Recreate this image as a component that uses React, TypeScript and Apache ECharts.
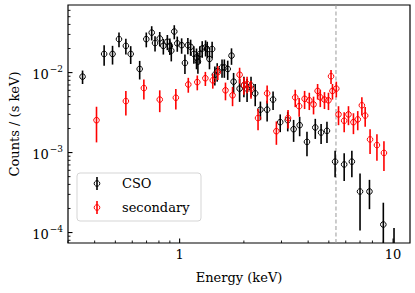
import React, { useEffect, useRef } from "react";
import * as echarts from "echarts";

// ---- data ----
const csoEnergy = [0.351, 0.443, 0.485, 0.52, 0.56, 0.59, 0.65, 0.698, 0.74, 0.767, 0.807, 0.839, 0.876, 0.9, 0.914, 0.944, 0.975, 1.022, 1.059, 1.093, 1.126, 1.166, 1.2, 1.218, 1.244, 1.276, 1.323, 1.347, 1.38, 1.42, 1.462, 1.5, 1.58, 1.62, 1.68, 1.75, 1.79, 1.91, 2.0, 2.07, 2.16, 2.26, 2.39, 2.57, 2.74, 2.96, 3.21, 3.42, 3.65, 3.95, 4.32, 4.6, 4.9, 5.35, 5.9, 6.41, 7.0, 7.75, 9.0, 10.1];
const csoCounts = [0.0089, 0.0171, 0.0171, 0.0262, 0.0216, 0.0171, 0.0111, 0.0262, 0.0316, 0.0234, 0.0267, 0.0216, 0.0243, 0.0216, 0.0188, 0.0326, 0.0232, 0.022, 0.0132, 0.022, 0.021, 0.0171, 0.0155, 0.0137, 0.0171, 0.02, 0.0206, 0.0197, 0.0148, 0.0197, 0.0094, 0.0104, 0.0116, 0.0116, 0.0111, 0.0163, 0.0077, 0.0063, 0.0069, 0.0063, 0.0069, 0.0055, 0.00344, 0.00344, 0.0046, 0.0024, 0.00254, 0.00196, 0.0022, 0.00136, 0.00206, 0.00178, 0.00187, 0.00077, 0.00071, 0.00077, 0.000326, 0.000326, 0.000126, 0.00006];
const csoErr = [0.0017, 0.0049, 0.0045, 0.0055, 0.0048, 0.0043, 0.0029, 0.0055, 0.0064, 0.005, 0.0055, 0.0048, 0.0052, 0.005, 0.005, 0.0065, 0.005, 0.0048, 0.0036, 0.005, 0.0048, 0.0042, 0.0045, 0.004, 0.0042, 0.0047, 0.0047, 0.0046, 0.0038, 0.0046, 0.0025, 0.0027, 0.003, 0.003, 0.003, 0.0038, 0.0022, 0.002, 0.002, 0.002, 0.002, 0.0017, 0.0009, 0.001, 0.0012, 0.0006, 0.0007, 0.0006, 0.0006, 0.00046, 0.00058, 0.0005, 0.00055, 0.00028, 0.00027, 0.00028, 0.00022, 0.00013, 0.00011, 0.000054];

const secEnergy = [0.408, 0.56, 0.68, 0.807, 0.96, 1.098, 1.21, 1.32, 1.43, 1.51, 1.64, 1.77, 1.91, 2.0, 2.07, 2.16, 2.33, 2.57, 2.84, 3.22, 3.48, 3.63, 3.85, 4.05, 4.24, 4.43, 4.56, 4.77, 4.98, 5.12, 5.2, 5.42, 5.55, 5.9, 6.18, 6.52, 6.83, 7.14, 7.4, 7.8, 8.4, 9.06];
const secCounts = [0.00254, 0.0044, 0.0064, 0.0046, 0.00485, 0.0071, 0.0076, 0.0085, 0.008, 0.0101, 0.006, 0.0052, 0.0094, 0.007, 0.0072, 0.0063, 0.0027, 0.0055, 0.00185, 0.0027, 0.0049, 0.0038, 0.0047, 0.0045, 0.004, 0.0059, 0.0049, 0.0046, 0.0045, 0.009, 0.0059, 0.0063, 0.003, 0.0025, 0.003, 0.0024, 0.0026, 0.0039, 0.0029, 0.00146, 0.00124, 0.00099];
const secErr = [0.0012, 0.0015, 0.0018, 0.0014, 0.0014, 0.0015, 0.0016, 0.0017, 0.0017, 0.002, 0.0015, 0.0014, 0.0021, 0.0017, 0.0017, 0.0016, 0.0008, 0.0014, 0.0006, 0.0007, 0.0012, 0.001, 0.0012, 0.0011, 0.001, 0.0013, 0.0012, 0.0011, 0.0011, 0.0018, 0.0013, 0.0014, 0.0008, 0.0007, 0.0008, 0.0007, 0.0007, 0.001, 0.0008, 0.0005, 0.00045, 0.0004];

const seriesNames = ["CSO", "secondary"];
const lineEnergy = 5.4;

const xMin = 0.3;
const xMax = 12;
const yMin = 7.4e-5;
const yMax = 0.07;

const xMajorTicks = [1, 10];
const xTickLabels = ["1", "10"];
const xMinorTicks = [0.3, 0.4, 0.5, 0.6, 0.7, 0.8, 0.9, 2, 3, 4, 5, 6, 7, 8, 9];
const yMajorTicks = [1e-4, 1e-3, 1e-2];
const yTickExps = ["−4", "−3", "−2"];
const yMinorTicks = [8e-5, 9e-5, 2e-4, 3e-4, 4e-4, 5e-4, 6e-4, 7e-4, 8e-4, 9e-4, 2e-3, 3e-3, 4e-3, 5e-3, 6e-3, 7e-3, 8e-3, 9e-3, 2e-2, 3e-2, 4e-2, 5e-2, 6e-2];

const FONT = "DejaVu Serif";

function errSeries(name: string, E: number[], C: number[], err: number[], color: string, z: number) {
  return {
    type: "custom",
    name,
    clip: true,
    z,
    data: E.map((e, i) => [e, C[i], Math.max(C[i] - err[i], 1e-9), C[i] + err[i]]),
    encode: { x: 0, y: [1, 2, 3] },
    renderItem: (params: any, api: any) => {
      const x = api.value(0);
      const p = api.coord([x, api.value(1)]);
      const lo = api.coord([x, api.value(2)]);
      const hi = api.coord([x, api.value(3)]);
      return {
        type: "group",
        children: [
          { type: "line", shape: { x1: p[0], y1: lo[1], x2: p[0], y2: hi[1] }, style: { stroke: color, lineWidth: 1.6 } },
          { type: "circle", shape: { cx: p[0], cy: p[1], r: 2.8 }, style: { stroke: color, fill: "none", lineWidth: 1 } },
        ],
      };
    },
  };
}

export default function App() {
  const ref = useRef<HTMLDivElement>(null);
  useEffect(() => {
    if (!ref.current) return;
    const chart = echarts.init(ref.current, null, { renderer: "svg" });

    const tickData: any[] = [];
    xMajorTicks.forEach((v, i) => tickData.push([v, yMin, 0, 1, xTickLabels[i]]));
    xMinorTicks.forEach((v) => tickData.push([v, yMin, 0, 0, ""]));
    yMajorTicks.forEach((v, i) => tickData.push([xMin, v, 1, 1, yTickExps[i]]));
    yMinorTicks.forEach((v) => tickData.push([xMin, v, 1, 0, ""]));

    const option: any = {
      animation: false,
      grid: { left: 67, right: 5, top: 5, bottom: 50, show: true, borderColor: "#000", borderWidth: 1.2, backgroundColor: "#fff" },
      xAxis: {
        type: "log",
        logBase: 10,
        min: xMin,
        max: xMax,
        name: "Energy (keV)",
        nameLocation: "middle",
        nameGap: 28,
        nameTextStyle: { fontFamily: FONT, fontSize: 13, color: "#000" },
        axisLine: { show: false },
        axisTick: { show: false },
        axisLabel: { show: false },
        splitLine: { show: false },
      },
      yAxis: {
        type: "log",
        logBase: 10,
        min: yMin,
        max: yMax,
        name: "Counts / (s keV)",
        nameLocation: "middle",
        nameGap: 47,
        nameTextStyle: { fontFamily: FONT, fontSize: 13, color: "#000" },
        axisLine: { show: false },
        axisTick: { show: false },
        axisLabel: { show: false },
        splitLine: { show: false },
      },
      series: [
        errSeries(seriesNames[0], csoEnergy, csoCounts, csoErr, "#000000", 3),
        errSeries(seriesNames[1], secEnergy, secCounts, secErr, "#ff0000", 4),
        {
          type: "custom",
          clip: true,
          z: 2,
          data: [[lineEnergy, yMin]],
          renderItem: (params: any, api: any) => {
            const cs = params.coordSys;
            const p = api.coord([api.value(0), api.value(1)]);
            return {
              type: "line",
              shape: { x1: p[0], y1: cs.y, x2: p[0], y2: cs.y + cs.height },
              style: { stroke: "#9a9a9a", lineWidth: 1, lineDash: [4, 2.5] },
            };
          },
        },
        {
          type: "custom",
          clip: false,
          z: 5,
          silent: true,
          data: tickData,
          renderItem: (params: any, api: any) => {
            const p = api.coord([api.value(0), api.value(1)]);
            const isY = api.value(2) === 1;
            const major = api.value(3) === 1;
            const label = tickData[params.dataIndex][4];
            const len = major ? 4.5 : 2.5;
            const children: any[] = [];
            if (!isY) {
              children.push({ type: "line", shape: { x1: p[0], y1: p[1], x2: p[0], y2: p[1] - len }, style: { stroke: "#000", lineWidth: major ? 1.1 : 0.9 } });
              if (major) {
                children.push({ type: "text", x: p[0], y: p[1] + 11, style: { text: label, fontFamily: FONT, fontSize: 13, fill: "#000", align: "center", verticalAlign: "middle" } });
              }
            } else {
              children.push({ type: "line", shape: { x1: p[0], y1: p[1], x2: p[0] + len, y2: p[1] }, style: { stroke: "#000", lineWidth: major ? 1.1 : 0.9 } });
              if (major) {
                children.push({
                  type: "text",
                  x: p[0] - 5,
                  y: p[1],
                  style: {
                    text: "{b|10}{s|" + label + "}",
                    align: "right",
                    verticalAlign: "middle",
                    rich: {
                      b: { fontFamily: FONT, fontSize: 13, fill: "#000", color: "#000", verticalAlign: "bottom" },
                      s: { fontFamily: FONT, fontSize: 9, fill: "#000", color: "#000", verticalAlign: "top", padding: [0, 0, 8, 1] },
                    },
                  },
                });
              }
            }
            return { type: "group", children };
          },
        },
      ],
      graphic: [
        {
          type: "group",
          z: 10,
          children: [
            { type: "rect", shape: { x: 77, y: 173, width: 124, height: 48, r: 3 }, style: { fill: "rgba(255,255,255,0.85)", stroke: "#d5d5d5", lineWidth: 1 } },
            { type: "line", shape: { x1: 97, y1: 177, x2: 97, y2: 190 }, style: { stroke: "#000", lineWidth: 1.6 } },
            { type: "circle", shape: { cx: 97, cy: 183.5, r: 2.8 }, style: { stroke: "#000", fill: "none", lineWidth: 1 } },
            { type: "text", x: 122, y: 183.5, style: { text: seriesNames[0], fontFamily: FONT, fontSize: 13, fill: "#000", verticalAlign: "middle" } },
            { type: "line", shape: { x1: 97, y1: 201, x2: 97, y2: 214 }, style: { stroke: "#ff0000", lineWidth: 1.6 } },
            { type: "circle", shape: { cx: 97, cy: 207.5, r: 2.8 }, style: { stroke: "#ff0000", fill: "none", lineWidth: 1 } },
            { type: "text", x: 122, y: 207.5, style: { text: seriesNames[1], fontFamily: FONT, fontSize: 13, fill: "#000", verticalAlign: "middle" } },
          ],
        },
      ],
    };
    chart.setOption(option);
    return () => chart.dispose();
  }, []);
  return <div ref={ref} style={{ position: "fixed", left: 0, top: 0, width: 415, height: 293, background: "#fff" }} />;
}
